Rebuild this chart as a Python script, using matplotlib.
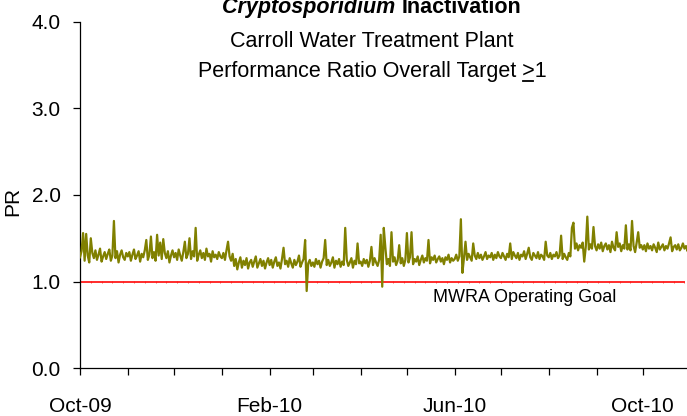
import datetime as dt
import matplotlib
matplotlib.use("Agg")
import matplotlib.pyplot as plt
import matplotlib.dates as mdates
from matplotlib.lines import Line2D
import pandas as pd

plt.rcParams['font.family'] = ['Liberation Sans', 'DejaVu Sans']

# daily performance ratio, one list per month
pr_2009_10 = [1.28, 1.35, 1.56, 1.24, 1.55, 1.30, 1.22, 1.50, 1.33, 1.27, 1.36, 1.25, 1.31, 1.38, 1.23, 1.29,
              1.34, 1.26, 1.32, 1.37, 1.24, 1.30, 1.70, 1.27, 1.35, 1.22, 1.31, 1.36, 1.28, 1.25, 1.33]
pr_2009_11 = [1.29, 1.34, 1.24, 1.31, 1.37, 1.26, 1.30, 1.35, 1.23, 1.32, 1.28, 1.36, 1.48, 1.25, 1.31, 1.52,
              1.27, 1.34, 1.24, 1.54, 1.30, 1.45, 1.26, 1.49, 1.33, 1.27, 1.35, 1.22, 1.30, 1.36]
pr_2009_12 = [1.28, 1.33, 1.25, 1.37, 1.30, 1.24, 1.34, 1.46, 1.27, 1.32, 1.50, 1.26, 1.35, 1.29, 1.62, 1.24,
              1.31, 1.36, 1.27, 1.33, 1.25, 1.38, 1.29, 1.32, 1.23, 1.35, 1.28, 1.31, 1.26, 1.34, 1.29]
pr_2010_01 = [1.27, 1.33, 1.25, 1.36, 1.46, 1.29, 1.24, 1.32, 1.18, 1.26, 1.14, 1.22, 1.28, 1.16, 1.24, 1.19,
              1.27, 1.15, 1.22, 1.25, 1.17, 1.23, 1.29, 1.16, 1.21, 1.26, 1.18, 1.24, 1.15, 1.22, 1.27]
pr_2010_02 = [1.19, 1.25, 1.16, 1.23, 1.28, 1.18, 1.22, 1.15, 1.26, 1.39, 1.20, 1.24, 1.17, 1.27, 1.21, 1.16,
              1.25, 1.19, 1.23, 1.30, 1.17, 1.22, 1.26, 1.48, 0.89, 1.21, 1.25, 1.18]
pr_2010_03 = [1.22, 1.17, 1.26, 1.20, 1.24, 1.16, 1.23, 1.27, 1.48, 1.19, 1.25, 1.18, 1.22, 1.28, 1.16, 1.24,
              1.20, 1.26, 1.17, 1.23, 1.19, 1.62, 1.25, 1.18, 1.22, 1.27, 1.16, 1.24, 1.20, 1.44, 1.21]
pr_2010_04 = [1.23, 1.18, 1.26, 1.21, 1.25, 1.17, 1.24, 1.40, 1.19, 1.27, 1.22, 1.18, 1.25, 1.54, 0.94, 1.62,
              1.40, 1.20, 1.26, 1.18, 1.57, 1.23, 1.28, 1.19, 1.24, 1.42, 1.21, 1.27, 1.18, 1.25]
pr_2010_05 = [1.56, 1.22, 1.28, 1.57, 1.20, 1.26, 1.23, 1.29, 1.19, 1.25, 1.30, 1.22, 1.27, 1.24, 1.48, 1.21,
              1.28, 1.25, 1.30, 1.22, 1.26, 1.29, 1.23, 1.27, 1.20, 1.28, 1.25, 1.31, 1.22, 1.27, 1.24]
pr_2010_06 = [1.26, 1.31, 1.24, 1.29, 1.72, 1.10, 1.27, 1.46, 1.25, 1.32, 1.28, 1.24, 1.44, 1.30, 1.26, 1.33,
              1.27, 1.31, 1.25, 1.29, 1.34, 1.26, 1.30, 1.28, 1.33, 1.25, 1.31, 1.27, 1.34, 1.29]
pr_2010_07 = [1.27, 1.33, 1.29, 1.25, 1.32, 1.28, 1.44, 1.26, 1.34, 1.30, 1.27, 1.33, 1.25, 1.31, 1.29, 1.35,
              1.26, 1.32, 1.39, 1.28, 1.25, 1.33, 1.30, 1.27, 1.34, 1.26, 1.31, 1.29, 1.25, 1.46, 1.30]
pr_2010_08 = [1.28, 1.33, 1.26, 1.31, 1.29, 1.34, 1.27, 1.30, 1.53, 1.26, 1.32, 1.28, 1.25, 1.33, 1.29, 1.62,
              1.68, 1.38, 1.44, 1.36, 1.42, 1.39, 1.45, 1.23, 1.40, 1.75, 1.37, 1.43, 1.38, 1.63, 1.41]
pr_2010_09 = [1.36, 1.43, 1.38, 1.45, 1.35, 1.41, 1.44, 1.37, 1.42, 1.34, 1.46, 1.39, 1.36, 1.57, 1.40, 1.44,
              1.35, 1.42, 1.38, 1.65, 1.37, 1.43, 1.36, 1.70, 1.41, 1.34, 1.45, 1.57, 1.39, 1.42]
pr_2010_10 = [1.37, 1.42, 1.35, 1.44, 1.38, 1.41, 1.36, 1.43, 1.39, 1.34, 1.45, 1.37, 1.40, 1.43, 1.36, 1.41,
              1.38, 1.44, 1.51, 1.35, 1.40, 1.42, 1.37, 1.43, 1.36, 1.39, 1.44, 1.38, 1.41, 1.35, 1.40]

months = ['2009-10', '2009-11', '2009-12', '2010-01', '2010-02', '2010-03', '2010-04',
          '2010-05', '2010-06', '2010-07', '2010-08', '2010-09', '2010-10']
monthly = [pr_2009_10, pr_2009_11, pr_2009_12, pr_2010_01, pr_2010_02, pr_2010_03, pr_2010_04,
           pr_2010_05, pr_2010_06, pr_2010_07, pr_2010_08, pr_2010_09, pr_2010_10]

goal = 1.0
goal_label = 'MWRA Operating Goal'
title_italic = 'Cryptosporidium '
title_bold = 'Inactivation'
subtitle1 = 'Carroll Water Treatment Plant'
subtitle2 = 'Performance Ratio Overall Target >1'

dates = []
values = []
for m, vals in zip(months, monthly):
    dates += list(pd.date_range(m + '-01', periods=len(vals), freq='D'))
    values += vals

fig = plt.figure(figsize=(6.87, 4.16), dpi=100)
ax = fig.add_axes([80 / 687, 48 / 416, 607 / 687, 346 / 416])

start = dt.datetime(2009, 10, 1)
end = start + dt.timedelta(days=607 / 1.542)

# goal line, drawn like the original series with faint tick markers
weeks = pd.date_range(start, end, freq='7D')
ax.plot(weeks, [goal] * len(weeks), color='#ff1a1a', lw=1.3, marker='|', ms=2, mew=0.5, zorder=2)
ax.plot(dates, values, color='#808000', lw=1.6, zorder=3)

ax.set_xlim(start, end)
ax.set_ylim(0, 4)
ax.set_yticks([0, 1, 2, 3, 4])
ax.yaxis.set_major_formatter(plt.FuncFormatter(lambda v, p: f'{v:.1f}'))

ax.xaxis.set_major_locator(mdates.MonthLocator())
ax.xaxis.set_major_formatter(plt.FuncFormatter(
    lambda x, p: mdates.num2date(x).strftime('%b-%y') if mdates.num2date(x).month in (2, 6, 10) else ''))

for s in ['top', 'right']:
    ax.spines[s].set_visible(False)
for s in ['left', 'bottom']:
    ax.spines[s].set_linewidth(0.9)
ax.tick_params(axis='x', length=5, width=0.9, pad=16, labelsize=15)
ax.tick_params(axis='y', length=5, width=0.9, pad=9, labelsize=15)

ax.set_ylabel('PR', fontsize=15)
ax.yaxis.set_label_coords(-58 / 607, 0.48)

ax.text(dt.datetime(2010, 5, 18), 0.81, goal_label, fontsize=13, va='center', ha='left')

# titles
cx = 372 / 687
r = fig.canvas.get_renderer()
t1 = fig.text(0, 403 / 416, title_italic, fontsize=15.5, fontweight='bold', fontstyle='italic', va='baseline')
t2 = fig.text(0, 403 / 416, title_bold, fontsize=15.5, fontweight='bold', va='baseline')
w1 = t1.get_window_extent(r).width
w2 = t2.get_window_extent(r).width
x0 = cx * 687 - (w1 + w2) / 2
t1.set_x(x0 / 687)
t2.set_x((x0 + w1) / 687)

fig.text(cx, 369 / 416, subtitle1, fontsize=15.5, ha='center', va='baseline')
t3 = fig.text(cx, 339 / 416, subtitle2, fontsize=15.5, ha='center', va='baseline')

# underline the ">" sign
bb = t3.get_window_extent(r)
tmp = fig.text(0, 0, subtitle2[:subtitle2.index('>') + 1], fontsize=15.5)
tmp_g = fig.text(0, 0, '>', fontsize=15.5)
wa = tmp.get_window_extent(r).width
wg = tmp_g.get_window_extent(r).width
tmp.remove()
tmp_g.remove()
ux1 = bb.x0 + wa
ux0 = ux1 - wg
uy = 339 - 4
fig.add_artist(Line2D([(ux0 + 1) / 687, (ux1 - 1) / 687], [uy / 416, uy / 416], color='black', lw=1.3,
                      transform=fig.transFigure))

fig.savefig('out.png', dpi=100)
